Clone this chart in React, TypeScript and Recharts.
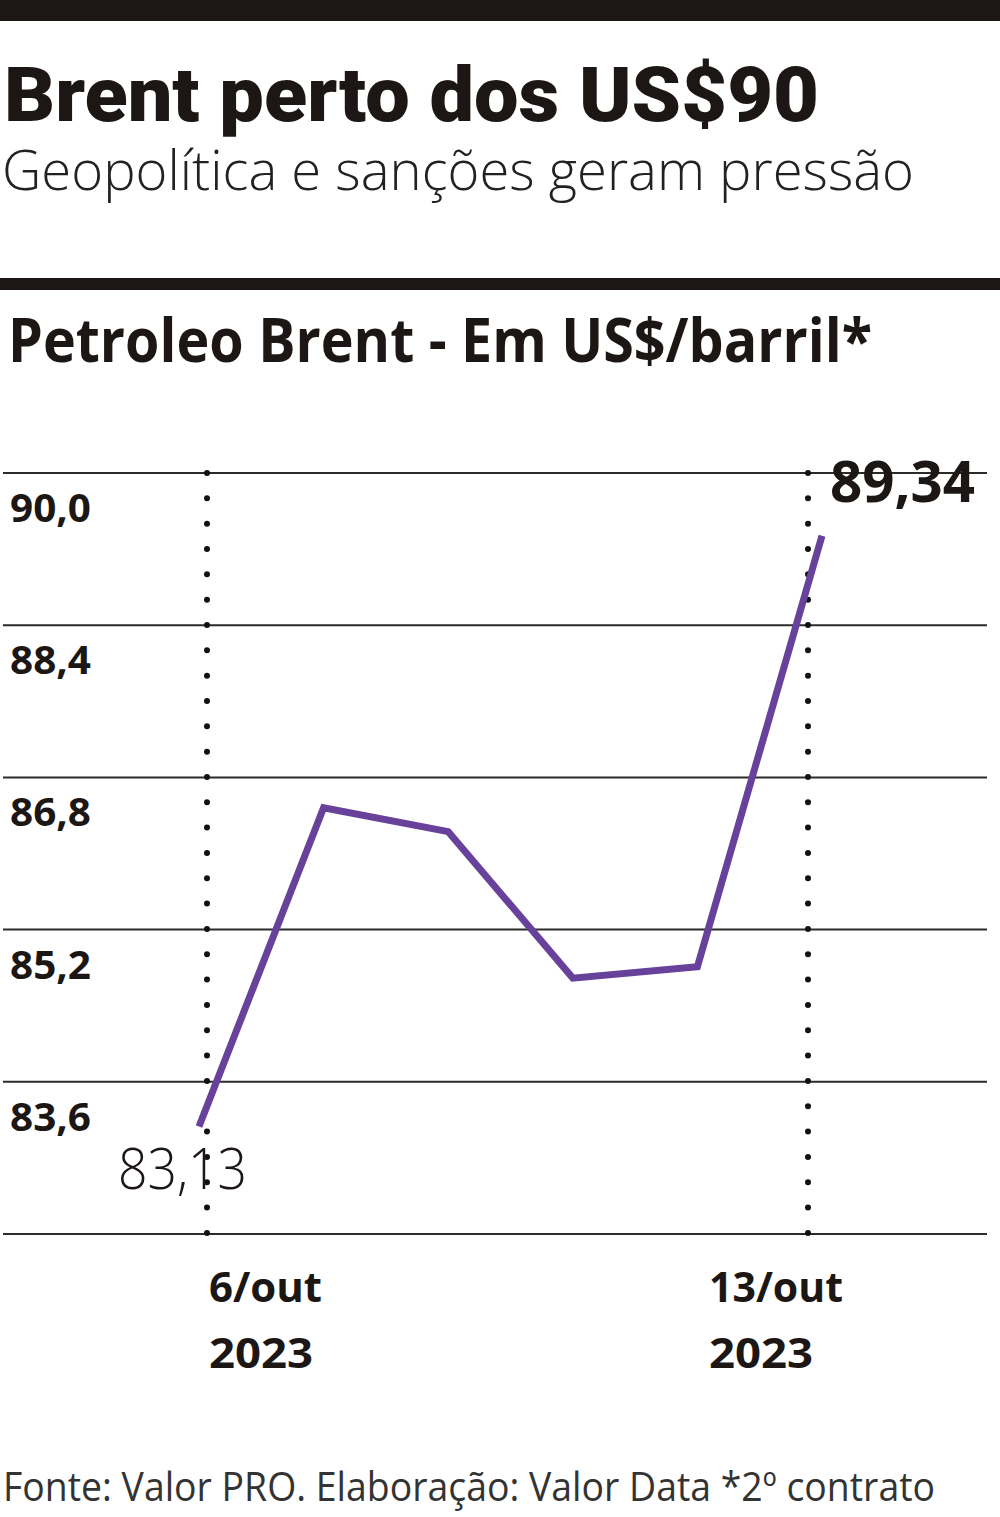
import React from 'react';
import { LineChart, Line, XAxis, YAxis, CartesianGrid, ReferenceLine, LabelList } from 'recharts';

const dates = ['6/out', '9/out', '10/out', '11/out', '12/out', '13/out'];
const prices = [83.13, 86.48, 86.23, 84.69, 84.81, 89.34];
const yTicks = [82, 83.6, 85.2, 86.8, 88.4, 90];
const shownDates = ['6/out', '13/out'];
const yearLabel = '2023';

const data = dates.map((d, i) => ({ date: d, price: prices[i] }));

const INK = '#1c1714';
const PURPLE = '#67419a';
const fmt = (v: number, digits: number) => v.toFixed(digits).replace('.', ',');

function ValueTick(props: any) {
  const { y, payload } = props;
  if (payload.value === yTicks[0]) return null;
  return (
    <text x={10} y={y + 49} fill={INK} fontFamily="Open Sans" fontWeight={700} fontSize={40}
      textLength={81} lengthAdjust="spacingAndGlyphs">
      {fmt(payload.value, 1)}
    </text>
  );
}

function DateTick(props: any) {
  const { x, y, payload } = props;
  if (!shownDates.includes(payload.value)) return null;
  const first = payload.value === shownDates[0];
  const left = first ? x + 10 : x - 113;
  return (
    <g fill={INK} fontFamily="Open Sans" fontWeight={700} fontSize={42}>
      <text x={left} y={y + 68} textLength={first ? 113 : 134} lengthAdjust="spacingAndGlyphs">{payload.value}</text>
      <text x={left} y={y + 134} textLength={104} lengthAdjust="spacingAndGlyphs">{yearLabel}</text>
    </g>
  );
}

function EndLabel(props: any) {
  const { x, y, value, index } = props;
  if (index === 0) {
    return (
      <text x={x - 81} y={y + 62} fill={INK} fontFamily="Open Sans" fontWeight={300} fontSize={57}
        textLength={129} lengthAdjust="spacingAndGlyphs">{fmt(value, 2)}</text>
    );
  }
  if (index === prices.length - 1) {
    return (
      <text x={x + 8} y={y - 34} fill={INK} fontFamily="Open Sans" fontWeight={700} fontSize={57}
        textLength={145} lengthAdjust="spacingAndGlyphs">{fmt(value, 2)}</text>
    );
  }
  return null;
}

// dotted vertical marker, drawn top-down so a dot sits on every gridline
const dotted = (shift: number) => (p: any) => (
  <line x1={p.x1 + shift} x2={p.x2 + shift} y1={Math.min(p.y1, p.y2)} y2={Math.max(p.y1, p.y2) + 1}
    stroke="#111" strokeWidth={6} strokeDasharray="0 25.33" strokeLinecap="round" />
);

export default function App() {
  return (
    <div style={{ position: 'absolute', left: 0, top: 0, width: 1000, height: 1517, background: '#fff', overflow: 'hidden' }}>
      <div style={{ position: 'absolute', left: 0, top: 0 }}>
        <LineChart width={1000} height={1517} data={data} margin={{ top: 473, right: 13, bottom: 133, left: 0 }}>
          <CartesianGrid vertical={false} stroke="#2b2b2b" strokeWidth={2} />
          <XAxis dataKey="date" padding={{ left: 196, right: 165 }} axisLine={false} tickLine={false}
            tickSize={0} tickMargin={0} height={150} interval={0} tick={<DateTick />} />
          <YAxis domain={[82, 90]} ticks={yTicks} width={3} axisLine={false} tickLine={false}
            interval={0} tick={<ValueTick />} />
          <ReferenceLine x={shownDates[0]} shape={dotted(8)} />
          <ReferenceLine x={shownDates[1]} shape={dotted(-14)} />
          <Line type="linear" dataKey="price" stroke={PURPLE} strokeWidth={7} dot={false}
            isAnimationActive={false}>
            <LabelList dataKey="price" content={EndLabel} />
          </Line>
        </LineChart>
      </div>
      <svg width={1000} height={400} style={{ position: 'absolute', left: 0, top: 0 }}>
        <rect x={0} y={0} width={1000} height={21} fill={INK} />
        <text x={4} y={121} fill={INK} fontFamily="Roboto" fontWeight={900} fontSize={76}
          textLength={815} lengthAdjust="spacingAndGlyphs">Brent perto dos US$90</text>
        <text x={2} y={190} fill="#222" fontFamily="Open Sans" fontWeight={300} fontSize={55}
          textLength={912} lengthAdjust="spacingAndGlyphs">Geopolítica e sanções geram pressão</text>
        <rect x={0} y={278} width={1000} height={12} fill={INK} />
        <text x={8} y={362} fill={INK} fontFamily="Open Sans" fontWeight={700} fontSize={61}
          textLength={864} lengthAdjust="spacingAndGlyphs">Petroleo Brent - Em US$/barril*</text>
      </svg>
      <svg width={1000} height={77} style={{ position: 'absolute', left: 0, top: 1440 }}>
        <text x={3} y={61} fill="#333" fontFamily="Open Sans" fontWeight={400} fontSize={40}
          textLength={932} lengthAdjust="spacingAndGlyphs">Fonte: Valor PRO. Elaboração: Valor Data *2º contrato</text>
      </svg>
    </div>
  );
}
